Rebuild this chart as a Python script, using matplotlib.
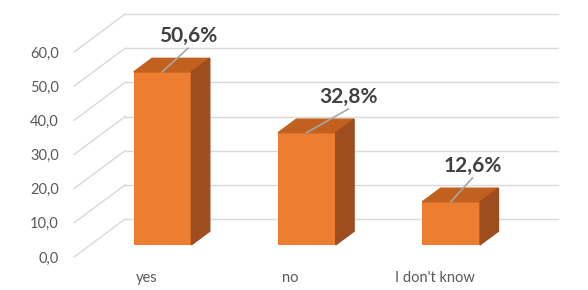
import matplotlib.pyplot as plt
from matplotlib.patches import Polygon

categories = ['yes', 'no', "I don't know"]
values = [50.6, 32.8, 12.6]
value_labels = ['50,6%', '32,8%', '12,6%']
yticks = [0, 10, 20, 30, 40, 50, 60]

# horizontal shift of each data label (category units), as Excel placed them
label_shift = [0.29, 0.40, 0.26]

plt.rcParams['font.family'] = ['Lato', 'DejaVu Sans']

fig = plt.figure(figsize=(5.88, 2.90), dpi=100)
ax = fig.add_axes([74/588, 33/290, 433/588, 205/290])
ax.set_xlim(-0.5, 2.5)
ax.set_ylim(0, 60)

# fake 3d depth (in data units)
DX, DY = 0.354, 11.1
d0, d1 = 0.32, 0.68
w = 0.4
grid_c = '#D9D9D9'

for t in yticks:
    ax.plot([-0.5, -0.5 + DX], [t, t + DY], color=grid_c, lw=1, clip_on=False, zorder=1)
    ax.plot([-0.5 + DX, 2.5 + DX], [t + DY, t + DY], color=grid_c, lw=1, clip_on=False, zorder=1)

x = list(range(len(categories)))
ax.bar([i + d0 * DX for i in x], values, bottom=d0 * DY, width=w,
       color='#ED7D31', zorder=3, clip_on=False)

for i, v in zip(x, values):
    xl, xr = i - w/2, i + w/2
    top = Polygon([(xl + d0*DX, v + d0*DY), (xr + d0*DX, v + d0*DY),
                   (xr + d1*DX, v + d1*DY), (xl + d1*DX, v + d1*DY)],
                  closed=True, color='#C2611F', zorder=3, clip_on=False)
    side = Polygon([(xr + d0*DX, d0*DY), (xr + d1*DX, d1*DY),
                    (xr + d1*DX, v + d1*DY), (xr + d0*DX, v + d0*DY)],
                   closed=True, color='#9E4D1E', zorder=3, clip_on=False)
    ax.add_patch(top)
    ax.add_patch(side)

for i, v, lab, s in zip(x, values, value_labels, label_shift):
    x0, y0 = i + 0.11, v + d0 * DY
    x1, y1 = i + s, v + 10.5
    ax.plot([x0, x1], [y0, y1], color='#A6A6A6', lw=1.2, zorder=4, clip_on=False)
    ax.text(x1, v + 14.0, lab, ha='center', va='center', fontsize=15,
            fontweight='bold', color='#404040', zorder=5, clip_on=False)

ax.set_yticks(yticks)
ax.set_yticklabels([f'{t:.1f}'.replace('.', ',') for t in yticks])
ax.set_xticks(x)
ax.set_xticklabels(categories)
ax.tick_params(axis='both', length=0, labelsize=10.5, colors='#595959')
ax.tick_params(axis='y', pad=11)
ax.tick_params(axis='x', pad=10)
for sp in ax.spines.values():
    sp.set_visible(False)
ax.patch.set_visible(False)

fig.savefig('out.png', dpi=100)
